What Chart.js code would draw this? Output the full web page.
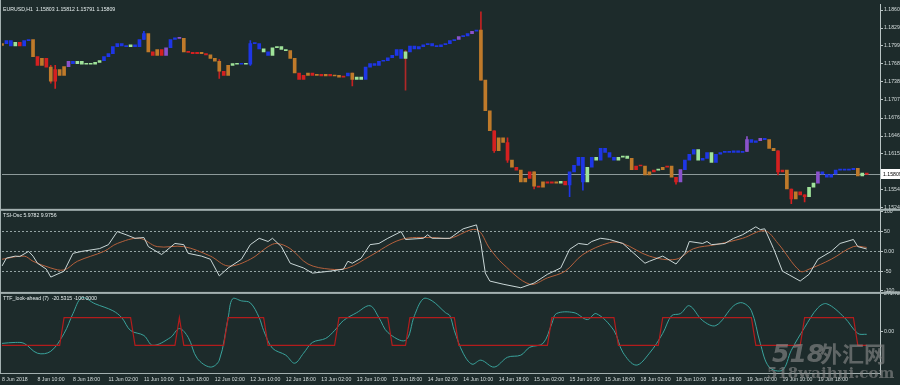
<!DOCTYPE html>
<html>
<head>
<meta charset="utf-8">
<title>EURUSD H1</title>
<script src="https://cdn.jsdelivr.net/npm/chart.js@4.4.1/dist/chart.umd.min.js"></script>
<style>
  html, body { margin: 0; padding: 0; background: #1d2b2b; }
  #wrap { width: 900px; height: 385px; }
</style>
</head>
<body>
<div id="wrap"><canvas id="chart" width="900" height="385"></canvas></div>
<script>
// hourly bars: [day, first hour, number of bars]
const days = [["8 Jun", 2, 22], ["11 Jun", 0, 24], ["12 Jun", 0, 24], ["13 Jun", 0, 24], ["14 Jun", 0, 24],
              ["15 Jun", 0, 24], ["18 Jun", 0, 24], ["19 Jun", 0, 24], ["20 Jun", 0, 9]];
const tickHours = [2, 10, 18];
const firstTickLabel = "8 Jun 2018";

// EURUSD H1 closes
const closes = [
  1.1803, 1.1808, 1.1799, 1.1805, 1.1799, 1.1808, 1.1810, 1.1781, 1.1766, 1.1778,
  1.1763, 1.1739, 1.1759, 1.1749, 1.1764, 1.1773, 1.1769, 1.1773, 1.1768, 1.1769,
  1.1768, 1.1771, 1.1774, 1.1781, 1.1786, 1.1798, 1.1803, 1.1799, 1.1798, 1.1801,
  1.1798, 1.1810, 1.1820, 1.1789, 1.1783, 1.1793, 1.1783, 1.1796, 1.1810, 1.1813,
  1.1812, 1.1789, 1.1788, 1.1786, 1.1788, 1.1786, 1.1784, 1.1778, 1.1773, 1.1756,
  1.1749, 1.1766, 1.1769, 1.1768, 1.1769, 1.1768, 1.1803, 1.1803, 1.1794, 1.1789,
  1.1783, 1.1796, 1.1798, 1.1793, 1.1791, 1.1778, 1.1753, 1.1742, 1.1749, 1.1753,
  1.1749, 1.1751, 1.1748, 1.1751, 1.1748, 1.1749, 1.1746, 1.1748, 1.1753, 1.1742,
  1.1746, 1.1742, 1.1763, 1.1769, 1.1766, 1.1773, 1.1774, 1.1779, 1.1783, 1.1793,
  1.1778, 1.1789, 1.1799, 1.1794, 1.1798, 1.1801, 1.1803, 1.1799, 1.1798, 1.1801,
  1.1803, 1.1808, 1.1810, 1.1815, 1.1816, 1.1820, 1.1824, 1.1826, 1.1741, 1.1689,
  1.1655, 1.1621, 1.1643, 1.1635, 1.1605, 1.1593, 1.1588, 1.1568, 1.1574, 1.1585,
  1.1561, 1.1559, 1.1568, 1.1566, 1.1568, 1.1566, 1.1569, 1.1563, 1.1585, 1.1596,
  1.1610, 1.1568, 1.1593, 1.1610, 1.1605, 1.1625, 1.1618, 1.1610, 1.1605, 1.1610,
  1.1612, 1.1608, 1.1589, 1.1595, 1.1595, 1.1580, 1.1585, 1.1588, 1.1589, 1.1593,
  1.1595, 1.1576, 1.1568, 1.1589, 1.1605, 1.1615, 1.1623, 1.1605, 1.1608, 1.1618,
  1.1601, 1.1615, 1.1618, 1.1620, 1.1618, 1.1621, 1.1618, 1.1620, 1.1640, 1.1635,
  1.1638, 1.1642, 1.1640, 1.1625, 1.1621, 1.1585, 1.1588, 1.1556, 1.1539, 1.1551,
  1.1546, 1.1543, 1.1559, 1.1566, 1.1585, 1.1581, 1.1576, 1.1581, 1.1588, 1.1589,
  1.1588, 1.1589, 1.1591, 1.1578, 1.1583, 1.15809
];
const firstOpen = 1.1800;
// one letter per candle: b blue, o orange, r red, g green, p purple
const candleColors =
  "obbgrbboro" + "roroopbggg" + "gggbbbbbbg" + "bbbororpbb" + "porrrorooo" +
  "roggbgbbbg" + "bggggoorro" + "rororoorbo" + "ggbbbbbbbb" + "bgbbbbbbbb" +
  "bbbpbbpboo" + "oroororoor" + "ororrogrbb" + "bbgbgbbbbg" + "ggorroorgo" +
  "rorpbbbgbb" + "gbbbbbbbpb" + "bpboorroro" + "rrggpbbbbb" + "bbbogr";
// visible wicks: [bar, low, high]
const wicks = [
  [11, 1.1736, 1.1766], [12, 1.1727, 1.1766], [32, 1.1810, 1.1824], [49, 1.1744, 1.1776],
  [56, 1.1766, 1.1808], [79, 1.1731, 1.1753], [91, 1.1724, 1.1791], [108, 1.1741, 1.1857],
  [111, 1.1618, 1.1655], [114, 1.1601, 1.1643], [120, 1.1556, 1.1585], [128, 1.1543, 1.1563],
  [131, 1.1554, 1.1610], [152, 1.1564, 1.1576], [168, 1.1620, 1.1645], [175, 1.1580, 1.1621],
  [178, 1.1531, 1.1556], [181, 1.1534, 1.1546]
];
const lastPrice = 1.15809;
const priceTicks = [1.18600, 1.18295, 1.17990, 1.17685, 1.17380, 1.17075, 1.16765, 1.16460, 1.16155, 1.15545, 1.15240];

// TSI-Osc: [bar, value]
const tsiLine = [
  [0, -37], [1, -17], [3, -12], [4, -13], [6, 0], [7, -12], [8, -30], [10, -45], [11, -65], [14, -50],
  [16, -5], [18, 0], [22, 7], [24, 17], [26, 50], [28, 42], [30, 33], [32, 35], [33, 12], [36, -8],
  [39, 20], [41, 17], [42, -5], [45, -12], [47, -20], [49, -62], [51, -42], [54, -20], [56, 17], [58, 33],
  [60, 25], [61, 33], [63, 12], [65, -30], [68, -42], [70, -55], [74, -50], [77, -45], [78, -25], [79, -30],
  [81, -17], [83, 17], [85, 20], [87, 33], [90, 50], [91, 30], [95, 33], [96, 42], [97, 33], [101, 33],
  [104, 57], [107, 67], [108, 20], [109, -55], [110, -75], [113, -83], [117, -92], [120, -80], [123, -58], [126, -42],
  [128, 5], [130, 20], [132, 17], [133, 25], [135, 33], [137, 30], [140, 20], [142, 0], [145, -30], [146, -25],
  [149, -12], [152, -32], [154, -5], [155, 25], [158, 20], [159, 25], [160, 17], [163, 20], [165, 33], [167, 42],
  [170, 62], [171, 55], [172, 57], [174, 7], [176, -50], [180, -75], [182, -58], [184, -20], [187, 0], [189, 20],
  [192, 30], [193, 12], [195, 6]
];
const tsiSignal = [
  [0, -20], [5, -12], [7, -25], [11, -42], [14, -47], [17, -25], [23, 0], [26, 20], [31, 33], [35, 12],
  [41, 12], [47, -12], [51, -37], [56, -20], [60, 12], [62, 20], [65, 7], [69, -32], [74, -45], [78, -42],
  [83, -12], [90, 30], [97, 35], [101, 33], [107, 55], [110, 7], [113, -32], [119, -83], [123, -67], [127, -50],
  [131, -8], [137, 22], [140, 20], [146, -12], [152, -20], [156, 7], [161, 17], [167, 33], [172, 52], [175, 20],
  [180, -50], [182, -45], [187, -20], [192, 12], [195, 10]
];
const tsiTicks = [100, 50, 0, -50, -100];

// TTF look-ahead: [bar, value]
const ttfLine = [
  [0, -86], [3, -79], [5, -86], [8, -157], [11, -143], [14, -14], [16, 129], [18, 243], [21, 200], [25, 150],
  [27, 100], [29, 7], [32, -29], [34, -100], [38, -43], [40, 21], [42, -43], [44, -193], [47, -257], [49, -207],
  [51, 100], [52, 236], [54, 221], [56, 207], [58, 100], [59, 7], [61, -121], [64, -171], [66, -229], [68, -157],
  [70, -79], [73, -50], [75, 7], [77, 79], [80, 136], [83, 186], [85, 100], [87, -7], [91, -64], [93, 114],
  [95, 236], [97, 221], [100, 136], [101, 114], [102, 7], [104, -157], [106, -236], [108, -207], [111, -257], [114, -186],
  [117, -171], [119, -114], [122, -86], [124, 57], [125, 129], [129, 136], [132, 86], [134, 129], [138, 7], [140, -150],
  [143, -243], [146, -157], [149, -14], [151, 114], [153, 129], [155, 186], [158, 79], [161, 43], [165, 186], [167, 207],
  [169, 150], [171, -86], [173, -257], [176, -279], [178, -136], [181, 29], [184, 171], [186, 200], [190, 100], [193, -14],
  [195, -20.5]
];
const ttfSignal = [
  [0, -100], [13, -100], [14, 100], [29, 100], [30, -100], [39, -100], [40, 100], [41, -100], [50, -100], [51, 100],
  [59, 100], [60, -100], [75, -100], [76, 100], [87, 100], [88, -100], [91, -100], [92, 100], [102, 100], [103, -100],
  [123, -100], [124, 100], [138, 100], [139, -100], [148, -100], [149, 100], [169, 100], [170, -100], [180, -100], [181, 100],
  [192, 100], [193, -100], [195, -100]
];
const ttfTicks = [271.727, 0];

const titles = ["EURUSD,H1  1.15803 1.15812 1.15791 1.15809", "TSI-Osc 5.9782 9.9756", "TTF_look-ahead (7)  -20.5315 -100.0000"];

const barLabels = [];
days.forEach(([d, h0, n]) => {
  for (let h = h0; h < h0 + n; h++) barLabels.push(d + " " + String(h).padStart(2, "0") + ":00");
});

const palette = { b: "#1e36e6", o: "#bf7a2a", r: "#d42020", g: "#9fe39a", p: "#8a52cc" };
const wickPalette = { b: "#1e36e6", o: "#c42222", r: "#d42020", g: "#b02828", p: "#8a52cc" };
const barColors = candleColors.split("").map(c => palette[c]);
const wickColors = candleColors.split("").map(c => wickPalette[c]);

// candle body runs from the previous close to this close
const bodies = closes.map((c, i) => [i === 0 ? firstOpen : closes[i - 1], c]);
const wickData = closes.map(() => null);
wicks.forEach(([i, lo, hi]) => { wickData[i] = [lo, hi]; });

const pts = arr => arr.map(([i, v]) => ({ x: barLabels[i], y: v }));

const FONT = "'Liberation Sans', 'DejaVu Sans', sans-serif";
const FS = 5.2;
const TXT = "#d6dede";
const AXIS = "#b9c4c4";

function rightAxis(extra) {
  return Object.assign({
    type: "linear",
    position: "right",
    stack: "panes",
    grid: { drawOnChartArea: false, tickLength: 3, color: AXIS },
    border: { color: AXIS },
    ticks: { color: TXT, padding: 1, font: { family: FONT, size: FS } },
    afterFit: s => { s.width = 20; }
  }, extra);
}

const decor = {
  id: "decor",
  beforeDraw(chart) {
    const ctx = chart.ctx;
    ctx.save();
    ctx.fillStyle = "#1d2b2b";
    ctx.fillRect(0, 0, chart.width, chart.height);
    ctx.restore();
  },
  beforeDatasetsDraw(chart) {
    const ctx = chart.ctx, a = chart.chartArea;
    const y = Math.round(chart.scales.yMain.getPixelForValue(lastPrice)) + 0.5;
    ctx.save();
    ctx.strokeStyle = "#8d9a9a";
    ctx.lineWidth = 1;
    ctx.beginPath(); ctx.moveTo(a.left, y); ctx.lineTo(a.right, y); ctx.stroke();
    ctx.restore();
  },
  afterDraw(chart) {
    const ctx = chart.ctx, a = chart.chartArea;
    const panes = [chart.scales.yMain, chart.scales.yTsi, chart.scales.yTtf];
    ctx.save();
    // pane separators
    ctx.fillStyle = "#a3b0b0";
    ctx.fillRect(0, panes[0].bottom - 1, chart.width, 2);
    ctx.fillRect(0, panes[1].bottom - 1, chart.width, 2);
    ctx.fillRect(0, panes[2].bottom - 1, a.right + 1, 1);
    ctx.fillRect(0, 0, 1, panes[2].bottom);
    // pane titles
    ctx.fillStyle = "#e6eeee";
    ctx.font = FS + "px " + FONT;
    ctx.textBaseline = "top";
    ctx.textAlign = "left";
    panes.forEach((s, i) => ctx.fillText(titles[i], 3, s.top + 3));
    // last price label
    const py = Math.round(panes[0].getPixelForValue(lastPrice));
    ctx.fillStyle = "#ffffff";
    ctx.fillRect(a.right + 1, py - 5, 20, 10);
    ctx.fillStyle = "#000000";
    ctx.textBaseline = "middle";
    ctx.fillText(lastPrice.toFixed(5), a.right + 3, py + 0.5);
    // site watermark
    ctx.globalAlpha = 0.6;
    ctx.fillStyle = "#8e8e8e";
    ctx.textBaseline = "alphabetic";
    ctx.font = "italic bold 25px 'DejaVu Sans', sans-serif";
    ctx.fillText("518", 772, 362);
    ctx.font = "bold 22px 'Noto Sans CJK SC', sans-serif";
    ctx.fillText("外汇网", 820, 362);
    ctx.font = "bold 15px 'DejaVu Serif', serif";
    ctx.fillText("518waihui.com", 767, 378);
    ctx.restore();
  }
};

new Chart(document.getElementById("chart"), {
  type: "bar",
  data: {
    labels: barLabels,
    datasets: [
      {
        label: "wicks", data: wickData, yAxisID: "yMain", order: 3, grouped: false,
        barThickness: 1, backgroundColor: wickColors
      },
      {
        label: "EURUSD,H1", data: bodies, yAxisID: "yMain", order: 2, grouped: false,
        barThickness: 3, minBarLength: 1, backgroundColor: barColors
      },
      {
        type: "line", label: "TSI", data: pts(tsiLine), yAxisID: "yTsi", order: 1,
        borderColor: "#c9d6d6", borderWidth: 1, pointRadius: 0, tension: 0
      },
      {
        type: "line", label: "TSI signal", data: pts(tsiSignal), yAxisID: "yTsi", order: 1,
        borderColor: "#b4603c", borderWidth: 1, pointRadius: 0, tension: 0.35
      },
      {
        type: "line", label: "TTF", data: pts(ttfLine), yAxisID: "yTtf", order: 1,
        borderColor: "#3aa39c", borderWidth: 1, pointRadius: 0, tension: 0.35
      },
      {
        type: "line", label: "TTF signal", data: pts(ttfSignal), yAxisID: "yTtf", order: 0,
        borderColor: "#b31c1c", borderWidth: 1.2, pointRadius: 0, tension: 0
      }
    ]
  },
  options: {
    responsive: false,
    animation: false,
    devicePixelRatio: 1,
    layout: { padding: 0, autoPadding: false },
    plugins: { legend: { display: false }, tooltip: { enabled: false } },
    scales: {
      x: {
        type: "category",
        offset: false,
        grid: { display: false, drawTicks: false },
        border: { display: false },
        ticks: {
          autoSkip: false, maxRotation: 0, minRotation: 0, align: "start", padding: 2,
          color: TXT, font: { family: FONT, size: FS },
          callback: (v, i) => {
            if (i === 0) return firstTickLabel;
            const lab = barLabels[i];
            const hour = parseInt(lab.slice(-5, -3), 10);
            return (i <= 186 && tickHours.includes(hour)) ? lab : null;
          }
        },
        afterFit: s => { s.height = 11; }
      },
      yMain: rightAxis({
        stackWeight: 208, min: 1.15206, max: 1.18701,
        afterBuildTicks: s => { s.ticks = priceTicks.map(v => ({ value: v })); },
        ticks: { color: TXT, padding: 1, font: { family: FONT, size: FS }, callback: v => v.toFixed(5) }
      }),
      yTsi: rightAxis({
        stackWeight: 84, min: -105, max: 105,
        afterBuildTicks: s => { s.ticks = tsiTicks.map(v => ({ value: v })); },
        grid: {
          drawOnChartArea: true, tickLength: 3, tickColor: AXIS,
          color: c => (c.tick && Math.abs(c.tick.value) === 50 || c.tick && c.tick.value === 0) ? "#93a2a2" : "rgba(0,0,0,0)"
        },
        border: { color: AXIS, dash: [2, 2] },
        ticks: { color: TXT, padding: 1, font: { family: FONT, size: FS }, callback: v => v === 0 ? "0.00" : String(v) }
      }),
      yTtf: rightAxis({
        stackWeight: 82, min: -307, max: 278.6,
        afterBuildTicks: s => { s.ticks = ttfTicks.map(v => ({ value: v })); },
        ticks: { color: TXT, padding: 1, font: { family: FONT, size: FS }, callback: v => v === 0 ? "0.00" : v.toFixed(3) }
      })
    }
  },
  plugins: [decor]
});
</script>
</body>
</html>
